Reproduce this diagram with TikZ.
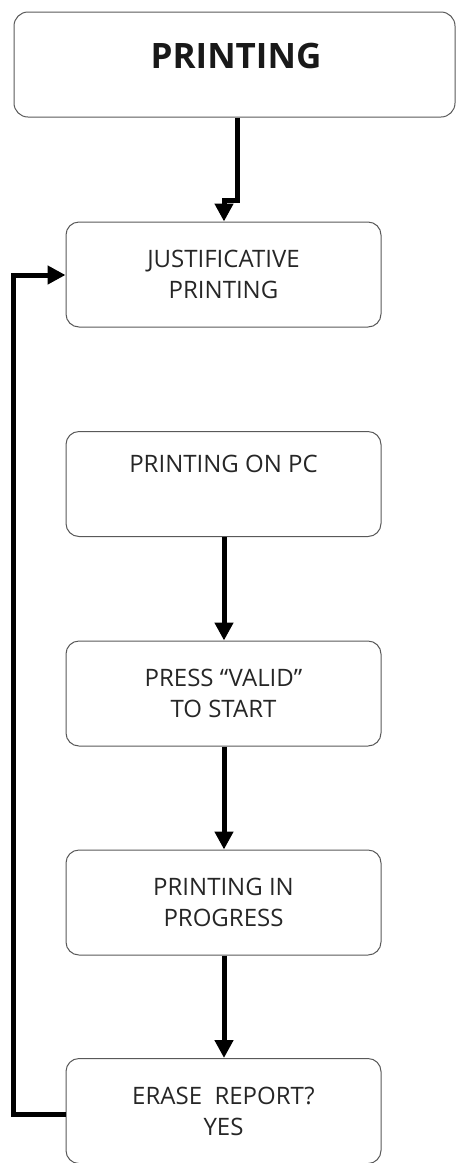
\documentclass[tikz,border=0pt]{standalone}
\usepackage{fontspec}
\setmainfont{Open Sans}
\usetikzlibrary{arrows.meta}
\begin{document}
\begin{tikzpicture}[x=1pt,y=-1pt,
  box/.style={draw=black!65,line width=1pt,rounded corners=13pt,minimum width=315pt,minimum height=105pt,
    inner sep=0pt,align=center,text=black!85,font=\fontsize{24}{31}\selectfont},
  title/.style={draw=black!65,line width=1pt,rounded corners=14pt,minimum width=441pt,minimum height=105pt,inner sep=0pt},
  flow/.style={line width=5pt,-{Triangle[width=18pt,length=18pt]}},
  plain/.style={line width=5pt}]
\useasboundingbox (0,0) rectangle (456,1163);
\node[title] (top) at (234.5,64.5) {};
\node[font=\bfseries\fontsize{35}{40}\selectfont,text=black!90] (toptext) at (236,56) {PRINTING};
\node[box] (just) at (223.5,274.5) {JUSTIFICATIVE\\PRINTING};
\node[box] (pc) at (223.5,484) {PRINTING ON PC\\\strut};
\node[box] (press) at (223.5,693.5) {PRESS “VALID”\\TO START};
\node[box] (prog) at (223.5,902.5) {PRINTING IN\\PROGRESS};
\node[box] (erase) at (223.5,1111) {ERASE\ \ REPORT?\\YES};
\coordinate (bend1) at (237,200);
\coordinate (bend2) at (224,200);
\draw[flow] (top.south -| bend1) -- (bend1) -- (bend2) -- (just.north -| bend2);
\draw[flow] (pc.south -| bend2) -- (press.north -| bend2);
\draw[flow] (press.south -| bend2) -- (prog.north -| bend2);
\draw[flow] (prog.south -| bend2) -- (erase.north -| bend2);
\coordinate (lb) at (13,1114);
\coordinate (lt) at (13,275);
\draw[flow] (erase.west |- lb) -- (lb) -- (lt) -- (just.west |- lt);
\end{tikzpicture}
\end{document}
